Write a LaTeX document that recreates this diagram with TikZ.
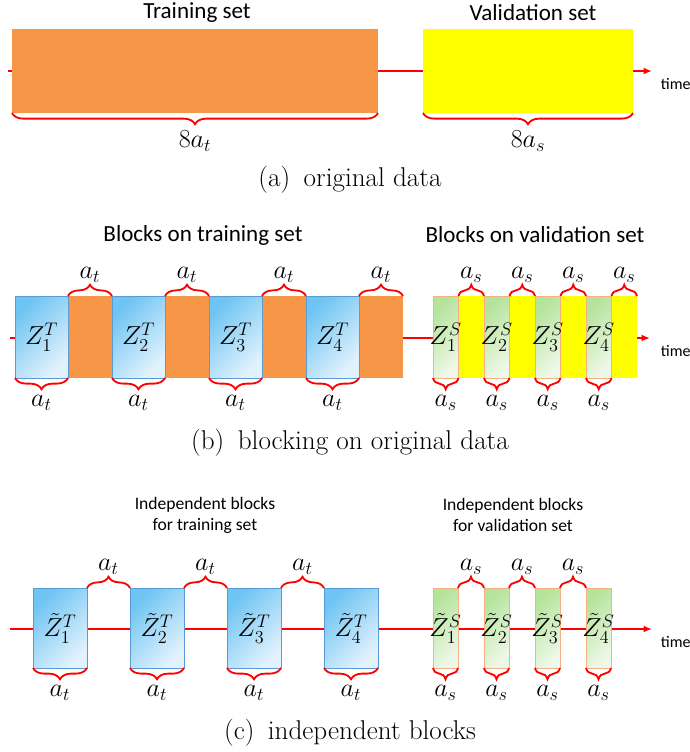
\RequirePackage{fix-cm}
\documentclass[tikz,border=0pt]{standalone}
\usepackage{fontspec}
\newfontfamily\calibri{Carlito}
\usetikzlibrary{arrows.meta,decorations.pathreplacing}

\definecolor{trainorange}{HTML}{F79646}
\definecolor{valyellow}{HTML}{FFFF00}
\definecolor{blockblue}{HTML}{6EC4F2}
\definecolor{blockbluelight}{HTML}{E2F2FD}
\definecolor{blockblueedge}{HTML}{5B9BD5}
\definecolor{blockgreen}{HTML}{B4E39A}
\definecolor{blockgreenlight}{HTML}{EEF8E8}
\definecolor{blockgreenedge}{HTML}{F4B183}

\newcommand\pxu{0.025cm}

\tikzset{
  box/.style 2 args={anchor=north west,inner sep=0pt,outer sep=0pt,
    minimum width=#1*\pxu,minimum height=#2*\pxu},
  blueblk/.style={draw=blockblueedge,line width=0.6pt,
    top color=blockblue,bottom color=blockbluelight,shading angle=45},
  greenblk/.style={draw=blockgreenedge,line width=0.6pt,
    top color=blockgreen,bottom color=blockgreenlight,shading angle=45},
  redline/.style={draw=red,line width=1.3pt},
  brc/.style={decorate,decoration={brace,amplitude=8pt},draw=red,line width=1.3pt},
  lbl/.style={inner sep=1pt,font=\fontsize{18.5}{21}\selectfont},
  head/.style={font=\calibri\fontsize{16.4}{19}\selectfont},
  subhead/.style={font=\calibri\fontsize{12.5}{15}\selectfont,align=center},
  timelbl/.style={font=\calibri\fontsize{11.4}{13}\selectfont,anchor=west},
  capt/.style={font=\fontsize{19.3}{22}\selectfont}
}

\begin{document}
\begin{tikzpicture}[x=0.025cm,y=-0.025cm]
  \useasboundingbox (0,0) rectangle (690,752);

  % (a) original data
  \coordinate (a0) at (8,71);
  \coordinate (a1) at (652,71);
  \draw[redline,-{Latex[length=6pt,width=5pt]}] (a0) -- (a1);
  \node[box={366}{84},fill=trainorange] (tra) at (12,29) {};
  \node[box={210}{84},fill=valyellow] (vala) at (423,29) {};
  \node[head] (tra-title) at (197,13) {Training set};
  \node[head] (vala-title) at (533,13) {Validation set};
  \node[timelbl] (time-a) at (656,84) {time};
  \draw[brc] (tra.south east) -- (tra.south west)
    node[lbl,midway,below=11pt] {$8a_t$};
  \draw[brc] (vala.south east) -- (vala.south west)
    node[lbl,midway,below=11pt] {$8a_s$};
  \node[capt] (capt-a) at (350,180) {(a)\enspace original data};

  % (b) blocking on original data
  \coordinate (b0) at (10,338);
  \coordinate (b1) at (650,338);
  \draw[redline,-{Latex[length=6pt,width=5pt]}] (b0) -- (b1);
  \node[box={388}{82},fill=trainorange] (trb) at (15,296) {};
  \node[box={204}{82},fill=valyellow] (valb) at (433,296) {};
  \foreach \i/\x in {1/15,2/112,3/209,4/306}{
    \node[box={53}{82},blueblk] (zb\i) at (\x,296) {};
    \node[lbl] at (zb\i) {$Z_{\i}^{T}$};
    \draw[brc] (zb\i.south east) -- (zb\i.south west)
      node[lbl,midway,below=11pt] {$a_t$};
  }
  \foreach \i/\x in {1/433,2/484,3/535,4/586}{
    \node[box={25.5}{82},greenblk] (zs\i) at (\x,296) {};
    \node[lbl] at (zs\i) {$Z_{\i}^{S}$};
    \draw[brc] (zs\i.south east) -- (zs\i.south west)
      node[lbl,midway,below=11pt] {$a_s$};
  }
  \foreach \i/\j in {1/2,2/3,3/4}{
    \draw[brc] (zb\i.north east) -- (zb\j.north west)
      node[lbl,midway,above=8pt] {$a_t$};
    \draw[brc] (zs\i.north east) -- (zs\j.north west)
      node[lbl,midway,above=8pt] {$a_s$};
  }
  \draw[brc] (zb4.north east) -- (trb.north east)
    node[lbl,midway,above=8pt] {$a_t$};
  \draw[brc] (zs4.north east) -- (valb.north east)
    node[lbl,midway,above=8pt] {$a_s$};
  \node[head] (trb-title) at (203,235) {Blocks on training set};
  \node[head] (valb-title) at (535,235) {Blocks on validation set};
  \node[timelbl] (time-b) at (656,351) {time};
  \node[capt] (capt-b) at (350,443) {(b)\enspace blocking on original data};

  % (c) independent blocks
  \coordinate (c0) at (10,629);
  \coordinate (c1) at (652,629);
  \draw[redline,-{Latex[length=6pt,width=5pt]}] (c0) -- (c1);
  \foreach \i/\x in {1/33,2/130,3/227,4/324}{
    \node[box={54}{80},blueblk] (zc\i) at (\x,588) {};
    \node[lbl] at (zc\i) {$\tilde{Z}_{\i}^{T}$};
    \draw[brc] (zc\i.south east) -- (zc\i.south west)
      node[lbl,midway,below=11pt] {$a_t$};
  }
  \foreach \i/\x in {1/433,2/484,3/535,4/586}{
    \node[box={25}{80},greenblk] (zv\i) at (\x,588) {};
    \node[lbl] at (zv\i) {$\tilde{Z}_{\i}^{S}$};
    \draw[brc] (zv\i.south east) -- (zv\i.south west)
      node[lbl,midway,below=11pt] {$a_s$};
  }
  \foreach \i/\j in {1/2,2/3,3/4}{
    \draw[brc] (zc\i.north east) -- (zc\j.north west)
      node[lbl,midway,above=8pt] {$a_t$};
    \draw[brc] (zv\i.north east) -- (zv\j.north west)
      node[lbl,midway,above=8pt] {$a_s$};
  }
  \node[subhead] (trc-title) at (205,515) {Independent blocks\\for training set};
  \node[subhead] (valc-title) at (513,515) {Independent blocks\\for validation set};
  \node[timelbl] (time-c) at (656,642) {time};
  \node[capt] (capt-c) at (350,733) {(c)\enspace independent blocks};
\end{tikzpicture}
\end{document}
